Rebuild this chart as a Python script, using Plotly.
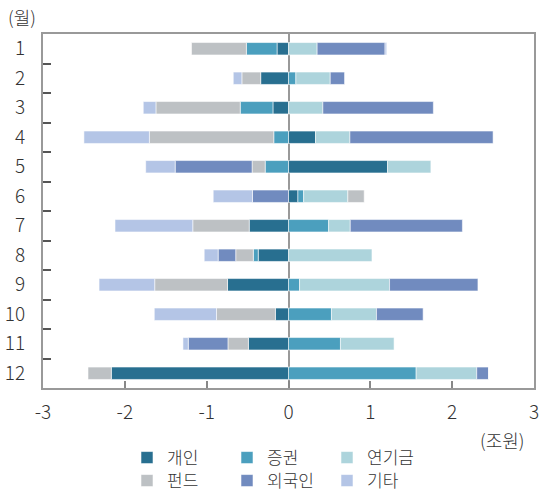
import plotly.graph_objects as go

# 월별 투자주체별 순매수 (조원)
months = [str(m) for m in range(1, 13)]

individual = [-0.14, -0.34, -0.19, 0.33, 1.21, 0.115, -0.48, -0.37, -0.745, -0.16, -0.49, -2.165]   # 개인
securities = [-0.375, 0.09, -0.40, -0.18, -0.285, 0.07, 0.49, -0.06, 0.135, 0.525, 0.635, 1.56]    # 증권
pension = [0.35, 0.42, 0.42, 0.42, 0.53, 0.54, 0.265, 1.02, 1.10, 0.55, 0.655, 0.74]               # 연기금
funds = [-0.67, -0.23, -1.03, -1.52, -0.16, 0.20, -0.69, -0.215, -0.89, -0.72, -0.25, -0.285]     # 펀드
foreign = [0.83, 0.175, 1.35, 1.75, -0.94, -0.44, 1.37, -0.215, 1.08, 0.57, -0.485, 0.145]        # 외국인
others = [0.02, -0.105, -0.155, -0.80, -0.36, -0.48, -0.95, -0.17, -0.68, -0.76, -0.065, 0.0]     # 기타

x_ticks = [-3, -2, -1, 0, 1, 2, 3]

series = [
    ("개인", individual, "#286f90", "legend"),
    ("증권", securities, "#4b9fbe", "legend"),
    ("연기금", pension, "#add4dc", "legend"),
    ("펀드", funds, "#bdc1c4", "legend2"),
    ("외국인", foreign, "#718bbf", "legend2"),
    ("기타", others, "#b4c5e6", "legend2"),
]

FONT = "Noto Sans CJK KR"
TEXT = "#333333"
W, H = 541, 494

fig = go.Figure()
for name, vals, color, leg in series:
    fig.add_trace(go.Bar(
        y=months, x=vals, name=name, orientation="h",
        marker=dict(color=color, line=dict(color="rgba(255,255,255,0.55)", width=1)),
        width=0.42, legend=leg,
    ))

legend_common = dict(
    orientation="h", xanchor="left", yanchor="middle",
    xref="container", yref="container",
    font=dict(family=FONT, size=17, color=TEXT, weight=300),
    entrywidth=55, bgcolor="rgba(0,0,0,0)", itemclick=False,
)

fig.update_layout(
    barmode="relative",
    width=W, height=H,
    margin=dict(l=43, r=7, t=34, b=106, autoexpand=False),
    plot_bgcolor="white", paper_bgcolor="white",
    font=dict(family=FONT, size=19, color=TEXT, weight=300),
    legend=dict(x=127 / W, y=1 - 458 / H, **legend_common),
    legend2=dict(x=127 / W, y=1 - 481 / H, **legend_common),
    annotations=[
        dict(text="(월)", x=-0.043, y=1.048, xref="paper", yref="paper",
             showarrow=False, xanchor="center", yanchor="middle",
             font=dict(family=FONT, size=18, color=TEXT, weight=300)),
        dict(text="(조원)", x=0.935, y=-0.147, xref="paper", yref="paper",
             showarrow=False, xanchor="center", yanchor="middle",
             font=dict(family=FONT, size=18, color=TEXT, weight=300)),
    ],
)

fig.update_xaxes(
    range=[-3, 3], tickvals=x_ticks, ticktext=[str(v) for v in x_ticks],
    showgrid=False, zeroline=True, zerolinecolor="#999999", zerolinewidth=2,
    showline=True, mirror=True, linecolor="#999999", linewidth=2,
    ticks="inside", ticklen=7, tickcolor="#888888", tickwidth=2,
    ticklabelstandoff=6, automargin=False,
)
fig.update_yaxes(
    type="category", categoryorder="array", categoryarray=months,
    autorange="reversed", showgrid=False,
    showline=True, mirror=True, linecolor="#999999", linewidth=2,
    ticks="inside", tickson="boundaries", ticklen=8, tickcolor="#555555", tickwidth=2,
    ticklabelstandoff=12, automargin=False,
)

fig.write_html("out.html")
